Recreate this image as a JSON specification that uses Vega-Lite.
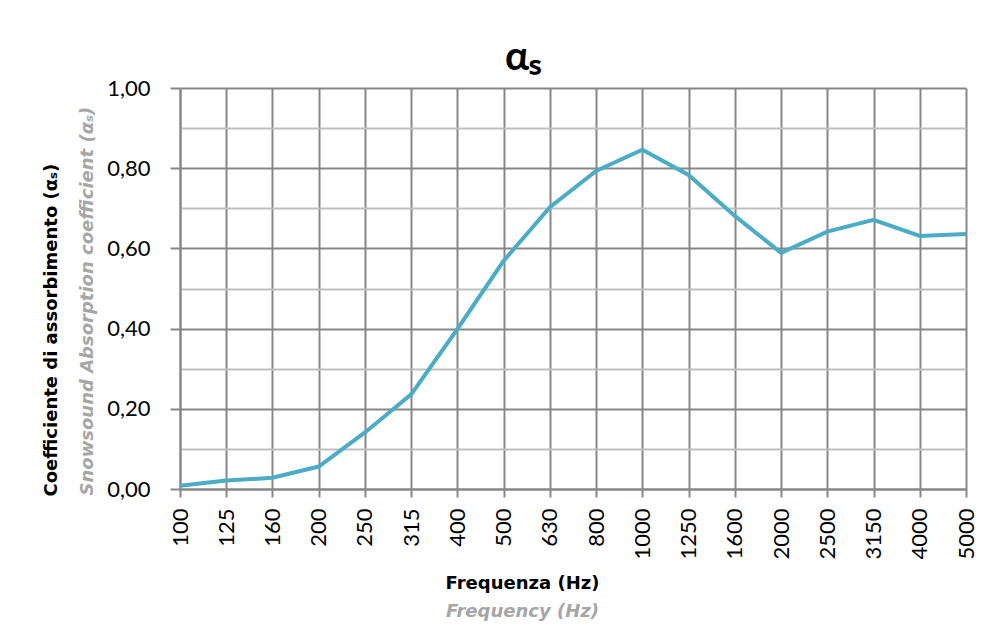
{
  "$schema": "https://vega.github.io/schema/vega-lite/v6.json",
  "width": 786,
  "height": 401,
  "autosize": {"type": "none"},
  "padding": {"left": 180, "top": 88, "right": 30, "bottom": 139},
  "background": "white",
  "config": {"view": {"stroke": null}, "font": "Lato"},
  "title": {"text": "αₛ", "fontSize": 40, "font": "Lato", "fontWeight": "bold", "color": "black", "dx": -50, "offset": -1},
  "data": {
    "values": [
      {"freq": "100", "alpha": 0.008},
      {"freq": "125", "alpha": 0.021},
      {"freq": "160", "alpha": 0.028},
      {"freq": "200", "alpha": 0.056},
      {"freq": "250", "alpha": 0.141},
      {"freq": "315", "alpha": 0.236},
      {"freq": "400", "alpha": 0.399},
      {"freq": "500", "alpha": 0.569},
      {"freq": "630", "alpha": 0.703},
      {"freq": "800", "alpha": 0.793},
      {"freq": "1000", "alpha": 0.846},
      {"freq": "1250", "alpha": 0.783},
      {"freq": "1600", "alpha": 0.681},
      {"freq": "2000", "alpha": 0.589},
      {"freq": "2500", "alpha": 0.642},
      {"freq": "3150", "alpha": 0.671},
      {"freq": "4000", "alpha": 0.631},
      {"freq": "5000", "alpha": 0.636}
    ]
  },
  "layer": [
    {
      "mark": {"type": "line", "color": "#4BACC6", "strokeWidth": 4},
      "encoding": {
        "x": {
          "field": "freq", "type": "ordinal", "sort": null,
          "scale": {"type": "point", "padding": 0},
          "axis": {
            "orient": "bottom",
            "title": "Frequenza (Hz)",
            "titleFont": "DejaVu Sans", "titleFontSize": 18, "titleFontWeight": "bold", "titleColor": "black",
            "titleX": 342, "titleY": 99, "titleBaseline": "alphabetic", "titleAlign": "center",
            "labelAngle": 270, "labelFontSize": 22, "labelColor": "black", "labelFont": "Lato",
            "labelPadding": 11, "labelAlign": "right", "labelBaseline": "middle",
            "tickSize": 8, "tickColor": "#878787", "tickWidth": 2,
            "domainColor": "#878787", "domainWidth": 2,
            "grid": true, "gridColor": "#878787", "gridWidth": 2
          }
        },
        "y": {
          "field": "alpha", "type": "quantitative",
          "scale": {"domain": [0, 1], "nice": false},
          "axis": {
            "orient": "left",
            "values": [0, 0.2, 0.4, 0.6, 0.8, 1],
            "labelExpr": "replace(format(datum.value, '.2f'), '.', ',')",
            "labelFontSize": 22, "labelColor": "black", "labelFont": "Lato", "labelPadding": 20,
            "tickSize": 10, "tickColor": "#878787", "tickWidth": 2,
            "domainColor": "#878787", "domainWidth": 2,
            "grid": true, "gridColor": "#878787", "gridWidth": 2,
            "title": "Coefficiente di assorbimento (αₛ)",
            "titleFont": "DejaVu Sans", "titleFontSize": 18, "titleFontWeight": "bold", "titleColor": "black",
            "titleAngle": 270, "titleX": -124, "titleY": 408, "titleAlign": "left", "titleBaseline": "alphabetic"
          }
        }
      }
    },
    {
      "mark": {"type": "line", "opacity": 0},
      "encoding": {
        "x": {
          "field": "freq", "type": "ordinal", "sort": null,
          "scale": {"type": "point", "padding": 0},
          "axis": {
            "orient": "bottom",
            "labels": false, "ticks": false, "domain": false, "grid": false,
            "title": "Frequency (Hz)",
            "titleFont": "DejaVu Sans", "titleFontSize": 18, "titleFontWeight": "bold", "titleFontStyle": "italic", "titleColor": "#A6A6A6",
            "titleX": 342, "titleY": 127, "titleBaseline": "alphabetic", "titleAlign": "center"
          }
        },
        "y": {
          "field": "alpha", "type": "quantitative",
          "scale": {"domain": [0, 1], "nice": false},
          "axis": {
            "orient": "left",
            "values": [0.1, 0.3, 0.5, 0.7, 0.9],
            "labels": false, "ticks": false, "domain": false,
            "grid": true, "gridColor": "#BFBFBF", "gridWidth": 2,
            "title": "Snowsound Absorption coefficient (αₛ)",
            "titleFont": "DejaVu Sans", "titleFontSize": 18, "titleFontWeight": "bold", "titleFontStyle": "italic", "titleColor": "#A6A6A6",
            "titleAngle": 270, "titleX": -88, "titleY": 407, "titleAlign": "left", "titleBaseline": "alphabetic"
          }
        }
      }
    }
  ],
  "resolve": {
    "scale": {"x": "independent", "y": "independent"},
    "axis": {"x": "independent", "y": "independent"}
  }
}
